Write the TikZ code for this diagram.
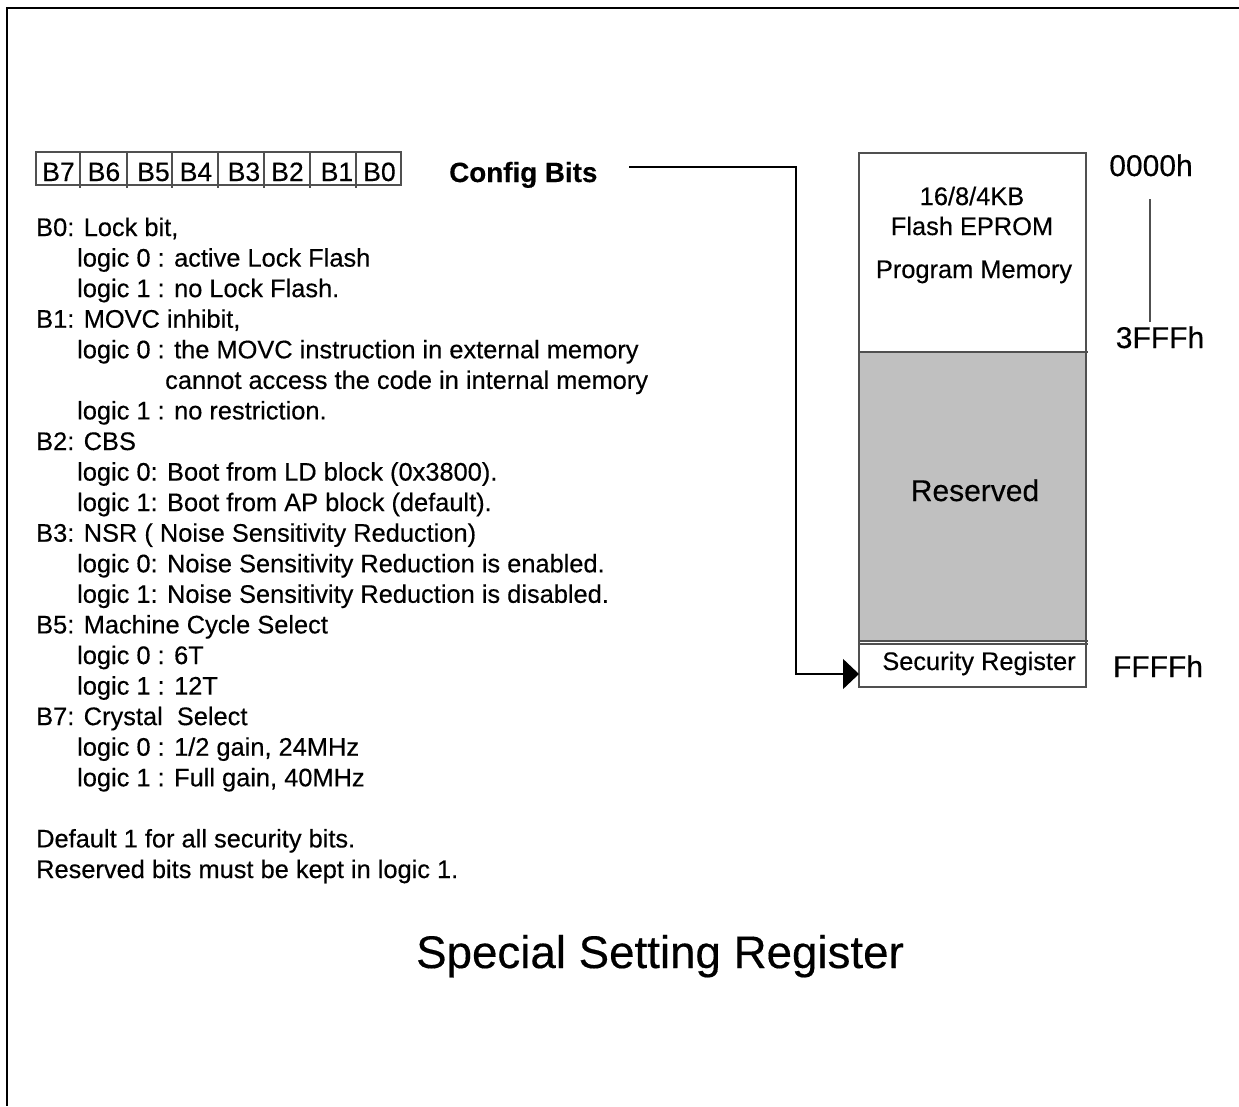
\documentclass[tikz,border=0pt]{standalone}
\usepackage{fontspec}
\setmainfont{Liberation Sans}[FakeBold=0.35]
\usetikzlibrary{arrows.meta}
\definecolor{resgray}{HTML}{C0C0C0}
\definecolor{linegray}{HTML}{505050}
\begin{document}
\begin{tikzpicture}[x=1pt,y=-1pt,
  txt/.style={inner sep=0pt, anchor=base west, font=\fontsize{25.4}{30}\selectfont},
  bitlbl/.style={inner sep=0pt, anchor=base, font=\fontsize{26.5}{30}\selectfont},
  memtxt/.style={inner sep=0pt, anchor=base, font=\fontsize{25.4}{30}\selectfont},
  addr/.style={inner sep=0pt, anchor=base, font=\fontsize{30}{36}\selectfont},
  boxline/.style={draw=linegray, line width=1.2pt},
  conn/.style={draw=black, line width=1.3pt}]
\useasboundingbox (0,0) rectangle (1239,1106);

% page frame
\draw[line width=2.8pt] (1239,8) -- (7,8) -- (7,1106);

% bit register boxes
\draw[boxline] (36,152) rectangle (401,185);
\foreach \xx in {80,127,172,218,264,310,356}
  \draw[boxline] (\xx,152) -- (\xx,188);
\node[bitlbl] (b7) at (58.5,181) {B7};
\node[bitlbl] (b6) at (104,181) {B6};
\node[bitlbl] (b5) at (153.5,181) {B5};
\node[bitlbl] (b4) at (196,181) {B4};
\node[bitlbl] (b3) at (244,181) {B3};
\node[bitlbl] (b2) at (287.5,181) {B2};
\node[bitlbl] (b1) at (337,181) {B1};
\node[bitlbl] (b0) at (379.5,181) {B0};

% Config Bits label
\node[inner sep=0pt, anchor=base west, font=\fontsize{27.8}{32}\selectfont\bfseries] (cfg) at (449,182) {Config Bits};

% description text
\node[txt] (t0) at (36,236) {B0: Lock bit,};
\node[txt] (t1) at (77,266.6) {logic 0 : active Lock Flash};
\node[txt] (t2) at (77,297.1) {logic 1 : no Lock Flash.};
\node[txt] (t3) at (36,327.7) {B1: MOVC inhibit,};
\node[txt] (t4) at (77,358.3) {logic 0 : the MOVC instruction in external memory};
\node[txt] (t5) at (165,388.9) {cannot access the code in internal memory};
\node[txt] (t6) at (77,419.4) {logic 1 : no restriction.};
\node[txt] (t7) at (36,450) {B2: CBS};
\node[txt] (t8) at (77,480.6) {logic 0: Boot from LD block (0x3800).};
\node[txt] (t9) at (77,511.1) {logic 1: Boot from AP block (default).};
\node[txt] (t10) at (36,541.7) {B3: NSR ( Noise Sensitivity Reduction)};
\node[txt] (t11) at (77,572.3) {logic 0: Noise Sensitivity Reduction is enabled.};
\node[txt] (t12) at (77,602.8) {logic 1: Noise Sensitivity Reduction is disabled.};
\node[txt] (t13) at (36,633.4) {B5: Machine Cycle Select};
\node[txt] (t14) at (77,664) {logic 0 : 6T};
\node[txt] (t15) at (77,694.6) {logic 1 : 12T};
\node[txt] (t16) at (36,725.1) {B7: Crystal\ \ Select};
\node[txt] (t17) at (77,755.7) {logic 0 : 1/2 gain, 24MHz};
\node[txt] (t18) at (77,786.3) {logic 1 : Full gain, 40MHz};
\node[txt] (t20) at (36,847.4) {Default 1 for all security bits.};
\node[txt] (t21) at (36,878) {Reserved bits must be kept in logic 1.};

% title
\node[inner sep=0pt, anchor=base, font=\fontsize{45.7}{50}\selectfont] (title) at (660,968) {Special Setting Register};

% memory map
\fill[resgray] (859,352) rectangle (1086,641);
\draw[boxline] (859,153) rectangle (1086,687);
\draw[boxline] (859,352) -- (1088,352);
\draw[boxline] (859,641) -- (1088,641);
\draw[boxline] (859,644) -- (1088,644);
\node[memtxt] (m1) at (972,205) {16/8/4KB};
\node[memtxt] (m2) at (972,235) {Flash EPROM};
\node[memtxt] (m3) at (974,278) {Program Memory};
\node[addr] (res) at (975,501) {Reserved};
\node[memtxt] (sec) at (979,670) {Security Register};

% addresses
\node[addr] (a0) at (1151,176) {0000h};
\node[addr] (a3) at (1160,348) {3FFFh};
\node[addr] (af) at (1158,677) {FFFFh};
\coordinate (rt) at (1150,199);
\coordinate (rb) at (1150,322);
\draw[draw=linegray, line width=1.1pt] (rt) -- (rb);

% connector from Config Bits to Security Register
\coordinate (cstart) at (629,167);
\coordinate (cturn1) at (796,167);
\coordinate (cturn2) at (796,674);
\coordinate (ctip) at (859,674);
\draw[conn, -{Triangle[length=16pt,width=30pt]}] (cstart) -- (cturn1) -- (cturn2) -- (ctip);
\end{tikzpicture}
\end{document}
